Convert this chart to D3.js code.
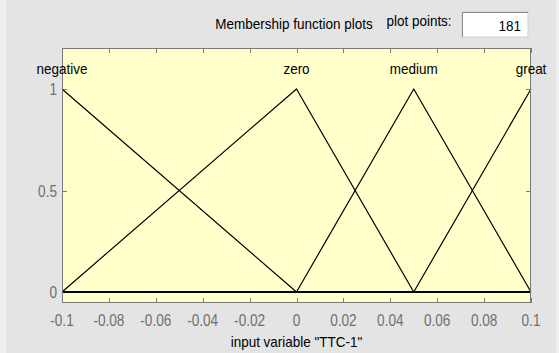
<!DOCTYPE html>
<html>
<head>
<meta charset="utf-8">
<script src="https://cdn.jsdelivr.net/npm/d3@7"></script>
<style>
  html, body { margin: 0; padding: 0; background: #e6e6e6; }
  svg { display: block; font-family: "Liberation Sans", Arial, sans-serif; }
</style>
</head>
<body>
<svg id="chart" width="559" height="353"></svg>
<script>
// Input variable range and tick values
const xDomain = [-0.1, 0.1];
const xTicks = [-0.1, -0.08, -0.06, -0.04, -0.02, 0, 0.02, 0.04, 0.06, 0.08, 0.1];
const xTickLabels = ["-0.1", "-0.08", "-0.06", "-0.04", "-0.02", "0", "0.02", "0.04", "0.06", "0.08", "0.1"];
const yTicks = [0, 0.5, 1];
const yTickLabels = ["0", "0.5", "1"];

// Membership functions (triangular breakpoints as [x, membership])
const mfNames = ["negative", "zero", "medium", "great"];
const mfPeaks = [-0.1, 0, 0.05, 0.1];
const mfNegative = [[-0.1, 1], [0, 0], [0.1, 0]];
const mfZero = [[-0.1, 0], [0, 1], [0.05, 0], [0.1, 0]];
const mfMedium = [[-0.1, 0], [0, 0], [0.05, 1], [0.1, 0]];
const mfGreat = [[-0.1, 0], [0.05, 0], [0.1, 1]];
const mfSeries = [mfNegative, mfZero, mfMedium, mfGreat];

const plotPoints = "181";

const svg = d3.select("#chart");
const W = 559, H = 353;

// Condensed text helper: horizontal squeeze keeps the tall, narrow GUI font look
function label(parent, tx, ty, str, opts) {
  const o = Object.assign({ size: 15, sx: 0.9, anchor: "middle", fill: "#000" }, opts || {});
  return parent.append("text")
    .attr("transform", `translate(${tx},${ty}) scale(${o.sx},1)`)
    .attr("text-anchor", o.anchor)
    .attr("font-size", o.size)
    .attr("fill", o.fill)
    .text(str);
}

// window frame
svg.append("rect").attr("x", 0).attr("y", 0).attr("width", W).attr("height", H).attr("fill", "#efefef");
svg.append("rect").attr("x", 6).attr("y", 0).attr("width", W - 9).attr("height", H).attr("fill", "#e4e4e4");

const plot = { left: 62, right: 531, top: 48, bottom: 303 };

const x = d3.scaleLinear().domain(xDomain).range([plot.left, plot.right]);
const y = d3.scaleLinear().domain([0, 1]).range([292, 89]);

// plot background
svg.append("rect")
  .attr("x", plot.left).attr("y", plot.top)
  .attr("width", plot.right - plot.left).attr("height", plot.bottom - plot.top)
  .attr("fill", "#ffffcc");

// header texts
label(svg, 294, 29, "Membership function plots");
label(svg, 419, 26, "plot points:");

// plot points edit box
const box = { x: 462, y: 12, w: 66, h: 25 };
svg.append("rect").attr("x", box.x).attr("y", box.y).attr("width", box.w).attr("height", box.h)
  .attr("fill", "#ffffff").attr("stroke", "#d0d0d0");
svg.append("path")
  .attr("d", `M${box.x + 0.5},${box.y + box.h} V${box.y + 0.5} H${box.x + box.w}`)
  .attr("fill", "none").attr("stroke", "#8a8a8a");
label(svg, box.x + box.w - 7, box.y + 19, plotPoints, { anchor: "end" });

// ticks (inside on all four sides)
const tickLen = 5;
const axisColor = "#7a7a7a";
const tg = svg.append("g").attr("stroke", axisColor).attr("stroke-width", 1);
xTicks.forEach(v => {
  const px = Math.round(x(v)) + 0.5;
  tg.append("line").attr("x1", px).attr("x2", px).attr("y1", plot.bottom).attr("y2", plot.bottom - tickLen);
  tg.append("line").attr("x1", px).attr("x2", px).attr("y1", plot.top).attr("y2", plot.top + tickLen);
});
yTicks.forEach(v => {
  const py = Math.round(y(v)) + 0.5;
  tg.append("line").attr("x1", plot.left).attr("x2", plot.left + tickLen).attr("y1", py).attr("y2", py);
  tg.append("line").attr("x1", plot.right).attr("x2", plot.right - tickLen).attr("y1", py).attr("y2", py);
});

// membership curves
const line = d3.line().x(d => x(d[0])).y(d => y(d[1]));
svg.append("g").selectAll("path").data(mfSeries).join("path")
  .attr("d", line)
  .attr("fill", "none")
  .attr("stroke", "#000")
  .attr("stroke-width", 1.2)
  .attr("stroke-linejoin", "round");

// zero-level baseline drawn heavier
svg.append("line")
  .attr("x1", x(xDomain[0])).attr("x2", x(xDomain[1]))
  .attr("y1", y(0)).attr("y2", y(0))
  .attr("stroke", "#000").attr("stroke-width", 2);

// axes box
svg.append("rect")
  .attr("x", plot.left + 0.5).attr("y", plot.top + 0.5)
  .attr("width", plot.right - plot.left - 1).attr("height", plot.bottom - plot.top - 1)
  .attr("fill", "none").attr("stroke", axisColor);

// membership function names
const nameG = svg.append("g");
mfNames.forEach((n, i) => label(nameG, x(mfPeaks[i]), 74, n));

// tick labels
const xl = svg.append("g");
xTicks.forEach((v, i) => label(xl, x(v), 326, xTickLabels[i], { size: 16, sx: 0.85, fill: "#707070" }));

const yl = svg.append("g");
yTicks.forEach((v, i) => label(yl, plot.left - 5, y(v) + 6, yTickLabels[i], { size: 16, sx: 0.85, anchor: "end", fill: "#707070" }));

// axis title
label(svg, x(0), 347, 'input variable "TTC-1"');
</script>
</body>
</html>
